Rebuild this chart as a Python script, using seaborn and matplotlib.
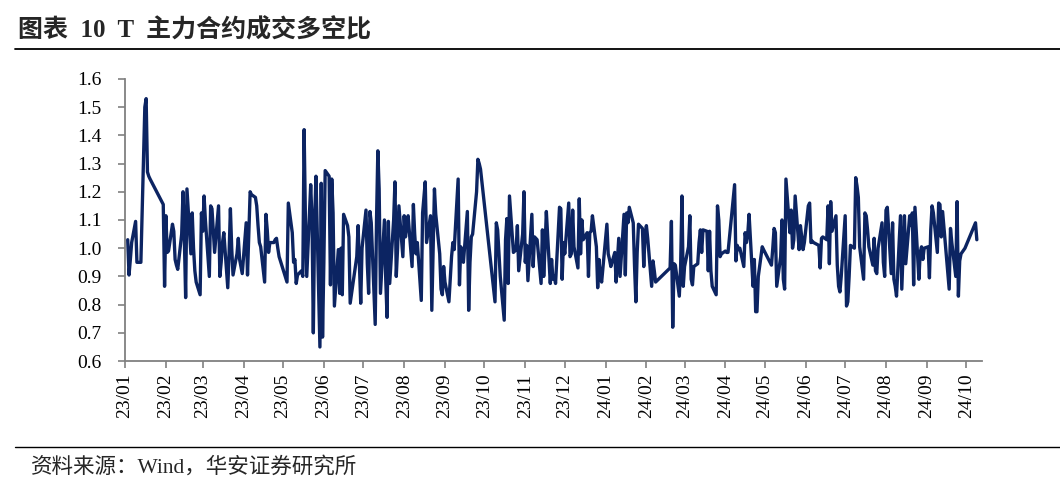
import matplotlib
matplotlib.use("Agg")
import numpy as np
import pandas as pd
import seaborn as sns
import matplotlib.pyplot as plt
import matplotlib.dates as mdates
from matplotlib.lines import Line2D
from matplotlib.ticker import FormatStrFormatter

# ---------------- data ----------------
title = "图表  10  T  主力合约成交多空比"
source = "资料来源：Wind，华安证券研究所"

# exchange holidays falling on weekdays (trading calendar)
holidays = ["2023-01-02", "2023-01-23", "2023-01-24", "2023-01-25", "2023-01-26", "2023-01-27",
            "2023-04-05", "2023-05-01", "2023-05-02", "2023-05-03", "2023-06-22", "2023-06-23",
            "2023-09-29", "2023-10-02", "2023-10-03", "2023-10-04", "2023-10-05", "2023-10-06",
            "2024-01-01", "2024-02-09", "2024-02-12", "2024-02-13", "2024-02-14", "2024-02-15",
            "2024-02-16", "2024-04-04", "2024-04-05", "2024-05-01", "2024-05-02", "2024-05-03",
            "2024-06-10", "2024-09-16", "2024-09-17", "2024-10-01", "2024-10-02", "2024-10-03",
            "2024-10-04", "2024-10-07"]

months = ["2023-01", "2023-02", "2023-03", "2023-04", "2023-05", "2023-06", "2023-07",
          "2023-08", "2023-09", "2023-10", "2023-11", "2023-12", "2024-01", "2024-02",
          "2024-03", "2024-04", "2024-05", "2024-06", "2024-07", "2024-08", "2024-09", "2024-10"]

v2301 = [1.03, 0.905, 0.96, 1.02, 1.095, 0.95, 0.95, 0.95, 0.95, 1.50, 1.53, 1.27, 1.255, 1.245, 1.155, 0.865]
v2302 = [1.115, 0.985, 0.99, 1.085, 1.06, 0.96, 0.94, 0.925, 1.05, 1.2, 1.04, 0.825, 1.21, 0.98, 1.125, 1.0,
         0.92, 0.88, 0.835, 1.125]
v2303 = [1.06, 1.185, 1.1, 0.9, 1.15, 1.14, 1.06, 0.985, 1.15, 0.9, 0.95, 1.02, 1.055, 0.86, 0.98, 1.14, 1.0,
         0.905, 0.98, 1.035, 0.96, 0.935, 0.91]
v2304 = [1.09, 0.905, 1.2, 1.19, 1.18, 1.15, 1.08, 1.02, 1.005, 0.88, 1.12, 1.065, 0.985, 1.02, 1.02, 1.03,
         1.035, 1.0, 0.97]
v2305 = [0.88, 1.16, 1.055, 0.95, 0.96, 0.875, 0.905, 0.92, 0.9, 1.42, 1.1, 0.9, 1.225, 1.1, 0.7, 1.1, 1.255,
         0.65, 1.23, 0.685]
v2306 = [0.95, 1.275, 1.255, 0.87, 1.245, 1.125, 0.795, 0.995, 0.84, 1.0, 0.835, 1.12, 1.08, 1.04, 0.805, 0.97,
         1.08, 0.94, 0.805, 1.0]
v2307 = [1.135, 0.945, 0.84, 1.13, 1.09, 0.73, 1.1, 1.345, 1.21, 0.84, 1.1, 0.89, 0.755, 1.095, 0.875, 1.1,
         1.235, 0.9, 1.0, 1.15, 0.97]
v2308 = [1.115, 1.04, 1.08, 1.115, 0.935, 1.155, 1.05, 0.98, 1.02, 0.815, 1.125, 1.18, 1.235, 1.02, 1.115, 0.78,
         1.0, 1.21, 1.12, 0.98, 0.855, 0.835, 0.935]
v2309 = [0.88, 0.81, 0.89, 0.97, 1.02, 0.995, 1.245, 0.87, 1.005, 0.985, 0.95, 1.13, 0.78, 0.95, 1.04, 1.05, 1.2,
         1.315, 1.3, 1.28]
v2310 = [0.81, 1.09, 1.065, 0.985, 0.9, 0.745, 1.03, 1.105, 0.875, 1.185, 0.985, 0.99, 0.995, 1.08, 0.92, 1.05, 1.2]
v2311 = [0.95, 1.01, 0.885, 1.12, 0.935, 1.04, 1.035, 1.03, 0.875, 1.065, 0.9, 1.0, 1.13, 0.875, 0.96, 0.89, 0.9,
         0.875, 1.145, 1.14, 0.89, 1.02]
v2312 = [0.98, 1.16, 0.97, 0.98, 1.135, 1.005, 0.93, 1.175, 0.98, 1.1, 1.03, 1.055, 0.9, 1.055, 1.06, 1.115, 1.005,
         0.86, 0.96, 0.9, 0.88]
v2401 = [1.085, 0.98, 0.96, 0.935, 0.985, 0.88, 0.96, 1.035, 0.9, 1.12, 0.905, 1.125, 1.09, 1.145, 1.09, 0.935,
         0.81, 0.985, 1.085, 1.07, 0.935, 1.05]
v2402 = [1.08, 1.035, 0.865, 0.955, 0.92, 0.88, 0.93, 1.095, 0.72, 0.945, 0.94, 0.83, 0.935, 1.185, 0.865]
v2403 = [0.935, 1.005, 1.115, 0.89, 0.87, 0.935, 0.945, 1.02, 1.065, 0.985, 1.065, 1.06, 0.92, 1.06, 0.92, 0.865,
         0.835, 1.15, 1.1, 0.97, 0.98]
v2404 = [0.99, 0.985, 0.985, 1.225, 0.955, 1.01, 0.995, 1.0, 0.935, 1.055, 1.02, 1.05, 1.12, 0.865, 0.96, 0.775,
         0.775, 0.9, 1.005, 0.995]
v2405 = [0.94, 1.0, 1.07, 1.055, 0.865, 0.97, 1.1, 0.89, 0.855, 1.245, 1.055, 1.135, 1.0, 1.03, 1.185, 0.995,
         1.08, 1.04, 0.995, 1.02]
v2406 = [1.15, 1.16, 1.02, 1.025, 1.02, 1.01, 0.93, 1.035, 1.04, 1.03, 1.15, 0.945, 1.165, 1.06, 1.115, 0.94,
         0.865, 0.845, 0.9]
v2407 = [1.115, 0.795, 0.81, 0.9, 1.01, 1.0, 1.25, 1.22, 1.18, 1.005, 0.89, 1.125, 1.115, 1.065, 1.005, 0.94,
         1.035, 0.92, 0.91, 1.0, 1.09, 0.95, 0.9]
v2408 = [1.135, 1.145, 0.91, 1.09, 0.89, 0.865, 0.83, 1.115, 0.855, 0.985, 1.115, 0.945, 1.115, 1.08, 1.125, 0.87,
         1.145, 0.89, 0.985, 1.005, 0.96, 1.0]
v2409 = [1.005, 0.895, 1.065, 1.15, 1.125, 0.985, 1.16, 1.155, 1.04, 1.13, 0.855, 1.07, 1.02, 0.9, 1.165, 0.83,
         0.955, 0.98, 1.0]
v2410 = [1.09, 1.03]

monthly_values = [v2301, v2302, v2303, v2304, v2305, v2306, v2307, v2308, v2309, v2310, v2311,
                  v2312, v2401, v2402, v2403, v2404, v2405, v2406, v2407, v2408, v2409, v2410]

y_ticks = [0.6, 0.7, 0.8, 0.9, 1.0, 1.1, 1.2, 1.3, 1.4, 1.5, 1.6]

# ------------- build the trading-day table -------------
hol = set(pd.to_datetime(holidays))
all_dates, all_vals = [], []
for m, vals in zip(months, monthly_values):
    start = pd.Timestamp(m + "-01")
    end = start + pd.offsets.MonthEnd(0)
    days = [d for d in pd.bdate_range(start, end) if d not in hol]
    if m == months[-1]:
        days = days[:len(vals)]
    if len(days) != len(vals):
        raise ValueError(f"{m}: {len(days)} trading days vs {len(vals)} values")
    all_dates += days
    all_vals += vals

df = pd.DataFrame({"date": all_dates, "ratio": all_vals})

# ---------------- plot ----------------
sns.set_style("ticks")
plt.rcParams["font.family"] = ["Liberation Serif", "Noto Sans CJK SC", "DejaVu Sans"]

fig = plt.figure(figsize=(10.6, 4.96), dpi=100)
ax = fig.add_axes([0.118, 0.272, 0.8085, 0.569])

sns.lineplot(data=df, x="date", y="ratio", ax=ax, color="#0c2462", linewidth=2.4)

ax.set_ylim(0.6, 1.6)
ax.set_yticks(y_ticks)
ax.yaxis.set_major_formatter(FormatStrFormatter("%.1f"))
ax.set_xlim(pd.Timestamp("2023-01-01"), pd.Timestamp("2024-10-13"))
ax.xaxis.set_major_locator(mdates.MonthLocator())
ax.xaxis.set_major_formatter(mdates.DateFormatter("%y/%m"))
ax.set_xlabel("")
ax.set_ylabel("")

for s in ["top", "right"]:
    ax.spines[s].set_visible(False)
for s in ["left", "bottom"]:
    ax.spines[s].set_color("#808080")
    ax.spines[s].set_linewidth(1.3)
ax.tick_params(axis="both", direction="out", length=5, width=1.2, color="#808080",
               labelcolor="black", labelsize=14)
ax.tick_params(axis="y", pad=12)
ax.tick_params(axis="x", labelrotation=90, pad=4)

# title, rules and source
fig.text(0.017, 0.94, title, fontsize=18, fontweight="bold", ha="left", va="center",
         family=["Liberation Serif", "Noto Sans CJK SC"])
fig.add_artist(Line2D([0.014, 1.0], [0.901, 0.901], color="black", linewidth=1.3,
                      transform=fig.transFigure))
fig.add_artist(Line2D([0.014, 1.0], [0.099, 0.099], color="black", linewidth=1.0,
                      transform=fig.transFigure))
fig.text(0.029, 0.057, source, fontsize=15.5, ha="left", va="center",
         family=["Liberation Serif", "Noto Sans CJK SC"])

fig.savefig("out.png", dpi=100)
